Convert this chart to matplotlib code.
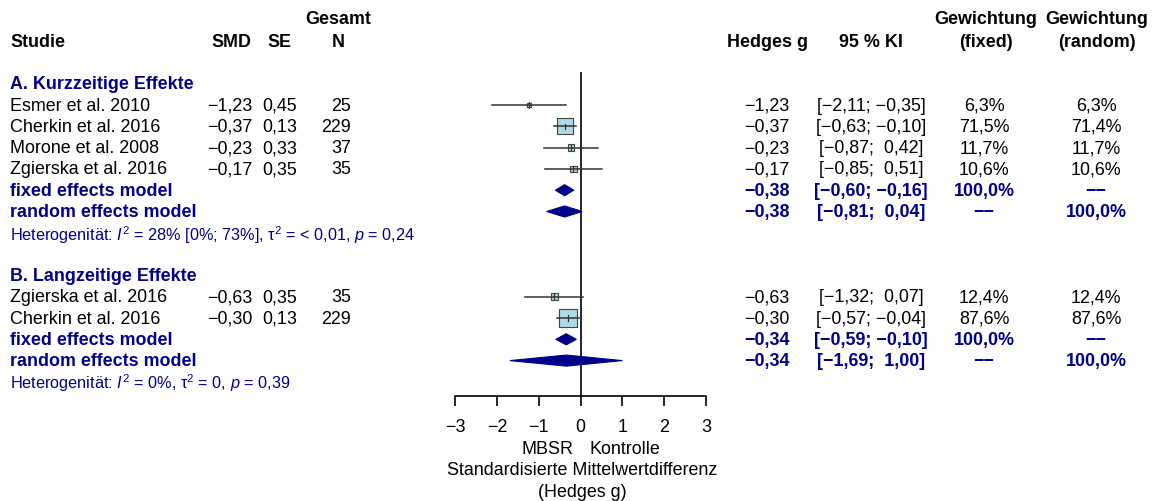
import matplotlib
matplotlib.use("Agg")
import matplotlib.pyplot as plt
from matplotlib.patches import Polygon
from matplotlib.transforms import blended_transform_factory

plt.rcParams['font.family'] = ['Liberation Sans', 'DejaVu Sans']
plt.rcParams['mathtext.fontset'] = 'custom'
plt.rcParams['mathtext.rm'] = 'Liberation Sans'
plt.rcParams['mathtext.it'] = 'Liberation Sans:italic'

# Studien (A: kurzzeitig, B: langzeitig)
studien_a = ['Esmer et al. 2010', 'Cherkin et al. 2016', 'Morone et al. 2008', 'Zgierska et al. 2016']
smd_a = [-1.23, -0.37, -0.23, -0.17]
se_a = [0.45, 0.13, 0.33, 0.35]
n_a = [25, 229, 37, 35]
ki_lo_a = [-2.11, -0.63, -0.87, -0.85]
ki_hi_a = [-0.35, -0.10, 0.42, 0.51]
w_fixed_a = [6.3, 71.5, 11.7, 10.6]
w_random_a = [6.3, 71.4, 11.7, 10.6]

studien_b = ['Zgierska et al. 2016', 'Cherkin et al. 2016']
smd_b = [-0.63, -0.30]
se_b = [0.35, 0.13]
n_b = [35, 229]
ki_lo_b = [-1.32, -0.57]
ki_hi_b = [0.07, -0.04]
w_fixed_b = [12.4, 87.6]
w_random_b = [12.4, 87.6]

# gepoolte Schaetzer: (g, unten, oben)
fixed_a = (-0.38, -0.60, -0.16)
random_a = (-0.38, -0.81, 0.04)
fixed_b = (-0.34, -0.59, -0.10)
random_b = (-0.34, -1.69, 1.00)

het_a = r'Heterogenität: $I^2$ = 28% [0%; 73%], τ$^2$ = < 0,01, $p$ = 0,24'
het_b = r'Heterogenität: $I^2$ = 0%, τ$^2$ = 0, $p$ = 0,39'

xticks = [-3, -2, -1, 0, 1, 2, 3]

W, H = 1154, 502
blau = '#00008B'
fs = 12.9
fs_klein = 11.7
leer = '\u2212\u2212'


def fmt(v):
    return f'{v:.2f}'.replace('.', ',').replace('-', '\u2212')


def fmt_ki(lo, hi):
    hi_s = fmt(hi)
    if hi >= 0:
        hi_s = ' ' + hi_s
    return f'[{fmt(lo)}; {hi_s}]'


def fmt_w(w):
    return f'{w:.1f}%'.replace('.', ',')


fig = plt.figure(figsize=(W / 100, H / 100), dpi=100)
# Forest-Achse: x von -3 bis 3, y in Zeilen (0 = erste Studie)
ax = fig.add_axes([455 / W, 1 - 397 / H, (706 - 455) / W, (397 - 73) / H])
zeile_px = 21.3
ax.set_xlim(-3, 3)
ax.set_ylim((397 - 106) / zeile_px, (73 - 106) / zeile_px)
for s in ['top', 'left', 'right']:
    ax.spines[s].set_visible(False)
ax.spines['bottom'].set_linewidth(1.2)
ax.set_yticks([])
ax.set_xticks(xticks)
ax.set_xticklabels([str(t).replace('-', '\u2212') for t in xticks])
ax.tick_params(axis='x', direction='out', length=7.2, width=1.2, pad=9, labelsize=fs)
ax.axvline(0, color='black', lw=1.2, zorder=1)

tr = blended_transform_factory(fig.transFigure, ax.transData)


def txt(xpx, row, s, ha='left', **kw):
    ax.text(xpx / W, row, s, transform=tr, ha=ha, va='center', clip_on=False,
            fontsize=kw.pop('fontsize', fs), **kw)


def studien_block(start, namen, smd, se, n, lo, hi, wf, wr):
    for i, name in enumerate(namen):
        r = start + i
        txt(10, r, name)
        txt(252, r, fmt(smd[i]), ha='right')
        txt(297, r, f'{se[i]:.2f}'.replace('.', ','), ha='right')
        txt(351, r, str(n[i]), ha='right')
        txt(767, r, fmt(smd[i]), ha='center')
        txt(871, r, fmt_ki(lo[i], hi[i]), ha='center')
        txt(984, r, fmt_w(wf[i]), ha='center')
        txt(1096, r, fmt_w(wr[i]), ha='center')
        ax.plot([lo[i], hi[i]], [r, r], color='#333333', lw=1.1, zorder=3)
        ax.plot([smd[i], smd[i]], [r - 0.12, r + 0.12], color='#333333', lw=0.9, zorder=3)
    rows = [start + i for i in range(len(namen))]
    ax.scatter(smd, rows, marker='s', s=[1.9 * w for w in wf],
               facecolor='#ADD8E6', edgecolor='#444444', linewidth=0.8, zorder=2)


def pool_zeile(r, label, est, fixed):
    g, lo, hi = est
    txt(10, r, label, color=blau, fontweight='bold')
    txt(767, r, fmt(g), ha='center', color=blau, fontweight='bold')
    txt(871, r, fmt_ki(lo, hi), ha='center', color=blau, fontweight='bold')
    txt(984, r, '100,0%' if fixed else leer, ha='center', color=blau, fontweight='bold')
    txt(1096, r, leer if fixed else '100,0%', ha='center', color=blau, fontweight='bold')
    h = 0.26
    ax.add_patch(Polygon([(lo, r), (g, r - h), (hi, r), (g, r + h)], closed=True,
                         facecolor=blau, edgecolor=blau, lw=0.8, zorder=3, clip_on=False))


# Kopfzeile
txt(10, -3, 'Studie', fontweight='bold')
txt(231, -3, 'SMD', ha='center', fontweight='bold')
txt(279, -3, 'SE', ha='center', fontweight='bold')
txt(338, -4.04, 'Gesamt', ha='center', fontweight='bold')
txt(338, -3, 'N', ha='center', fontweight='bold')
txt(767, -3, 'Hedges g', ha='center', fontweight='bold')
txt(871, -3, '95 % KI', ha='center', fontweight='bold')
txt(986, -4.04, 'Gewichtung', ha='center', fontweight='bold')
txt(986, -3, '(fixed)', ha='center', fontweight='bold')
txt(1097, -4.04, 'Gewichtung', ha='center', fontweight='bold')
txt(1097, -3, '(random)', ha='center', fontweight='bold')

# Block A
txt(10, -1, 'A. Kurzzeitige Effekte', color=blau, fontweight='bold')
studien_block(0, studien_a, smd_a, se_a, n_a, ki_lo_a, ki_hi_a, w_fixed_a, w_random_a)
pool_zeile(4, 'fixed effects model', fixed_a, True)
pool_zeile(5, 'random effects model', random_a, False)
txt(10, 6.05, het_a, color=blau, fontsize=fs_klein)

# Block B
txt(10, 8, 'B. Langzeitige Effekte', color=blau, fontweight='bold')
studien_block(9, studien_b, smd_b, se_b, n_b, ki_lo_b, ki_hi_b, w_fixed_b, w_random_b)
pool_zeile(11, 'fixed effects model', fixed_b, True)
pool_zeile(12, 'random effects model', random_b, False)
txt(10, 13.0, het_b, color=blau, fontsize=fs_klein)

# Achsenbeschriftung
ax.text(-0.8, 16.15, 'MBSR', ha='center', va='center', fontsize=fs, clip_on=False)
ax.text(1.05, 16.15, 'Kontrolle', ha='center', va='center', fontsize=fs, clip_on=False)
ax.text(0.05, 17.1, 'Standardisierte Mittelwertdifferenz', ha='center', va='center',
        fontsize=fs, clip_on=False)
ax.text(0.05, 18.15, '(Hedges g)', ha='center', va='center', fontsize=fs, clip_on=False)

fig.savefig('out.png', dpi=100)
